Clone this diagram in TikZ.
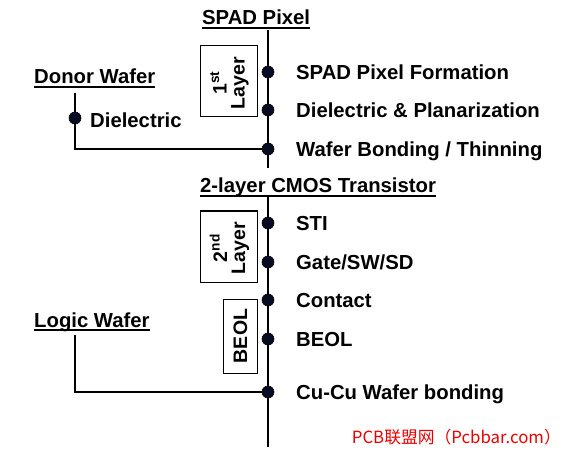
\documentclass[tikz,border=0pt]{standalone}
\usepackage{fontspec}
\setmainfont{Liberation Sans}
\newfontfamily\cjk{Noto Sans CJK SC}
\definecolor{dotc}{RGB}{8,12,35}
\definecolor{wmred}{RGB}{235,0,0}
\newcommand\myul[1]{\setbox0=\hbox{#1}\rlap{\rule[-4pt]{\wd0}{1.8pt}}\box0}
\begin{document}
\begin{tikzpicture}[x=1pt,y=-1pt,
  conn/.style={line width=2pt, black},
  dot/.style={circle, fill=dotc, draw=black, line width=0.6pt, inner sep=0pt, minimum size=12pt},
  lbl/.style={font=\fontsize{20.3}{24}\selectfont\bfseries, anchor=base west, inner sep=0pt},
  ttl/.style={font=\fontsize{20.3}{24}\selectfont\bfseries, anchor=base west, inner sep=0pt},
  layerbox/.style={draw, line width=1pt, fill=white},
  rottext/.style={rotate=90, align=center, font=\fontsize{19.5}{18}\selectfont\bfseries, inner sep=0pt}]
\useasboundingbox (0,0) rectangle (566,452);
% positions
\coordinate (t1) at (268,30);
\coordinate (b1) at (268,168);
\coordinate (t2) at (268,197);
\coordinate (b2) at (268,447);
\coordinate (p1) at (268,72);
\coordinate (p2) at (268,110);
\coordinate (p3) at (268,149);
\coordinate (q1) at (268,223);
\coordinate (q2) at (268,262);
\coordinate (q3) at (268,300);
\coordinate (q4) at (268,339);
\coordinate (q5) at (268,392);
\coordinate (dtop) at (75,93);
\coordinate (pd) at (75,118);
\coordinate (ltop) at (75,335);
% lines
\draw[conn] (t1) -- (b1);
\draw[conn] (t2) -- (b2);
\draw[conn] (dtop) |- (p3);
\draw[conn] (ltop) |- (q5);
% boxes
\node[layerbox, minimum width=57pt, minimum height=71pt] (box1) at (228.5,81.5) {};
\node[rottext] (box1t) at (229.5,83) {1\textsuperscript{st}\\Layer};
\node[layerbox, minimum width=57pt, minimum height=71pt] (box2) at (228.5,246.5) {};
\node[rottext] (box2t) at (229.5,248) {2\textsuperscript{nd}\\Layer};
\node[layerbox, minimum width=34pt, minimum height=74pt] (box3) at (240,336) {};
\node[rottext] (box3t) at (240.5,336) {BEOL};
% dots
\foreach \n in {p1,p2,p3,q1,q2,q3,q4,q5,pd} \node[dot] (d\n) at (\n) {};
% titles
\node[ttl] (spad) at (202,25) {\myul{SPAD Pixel}};
\node[ttl] (cmos) at (200,193) {\myul{2-layer CMOS Transistor}};
\node[ttl] (donor) at (34,84) {\myul{Donor Wafer}};
\node[ttl] (logic) at (34,327) {\myul{Logic Wafer}};
% labels
\node[lbl] (l1) at (296,79.5) {SPAD Pixel Formation};
\node[lbl] (l2) at (296,117.5) {Dielectric \& Planarization};
\node[lbl] (l3) at (296,156.5) {Wafer Bonding / Thinning};
\node[lbl] (ld) at (90,128) {Dielectric};
\node[lbl] (m1) at (296,230.5) {STI};
\node[lbl] (m2) at (296,269.5) {Gate/SW/SD};
\node[lbl] (m3) at (296,307.5) {Contact};
\node[lbl] (m4) at (296,346.5) {BEOL};
\node[lbl] (m5) at (296,399.5) {Cu-Cu Wafer bonding};
% watermark
\node[anchor=base east, inner sep=0pt, text=wmred, font=\cjk\fontsize{16.8}{19}\selectfont] (wm) at (561,443) {PCB联盟网（Pcbbar.com）};
\end{tikzpicture}
\end{document}
